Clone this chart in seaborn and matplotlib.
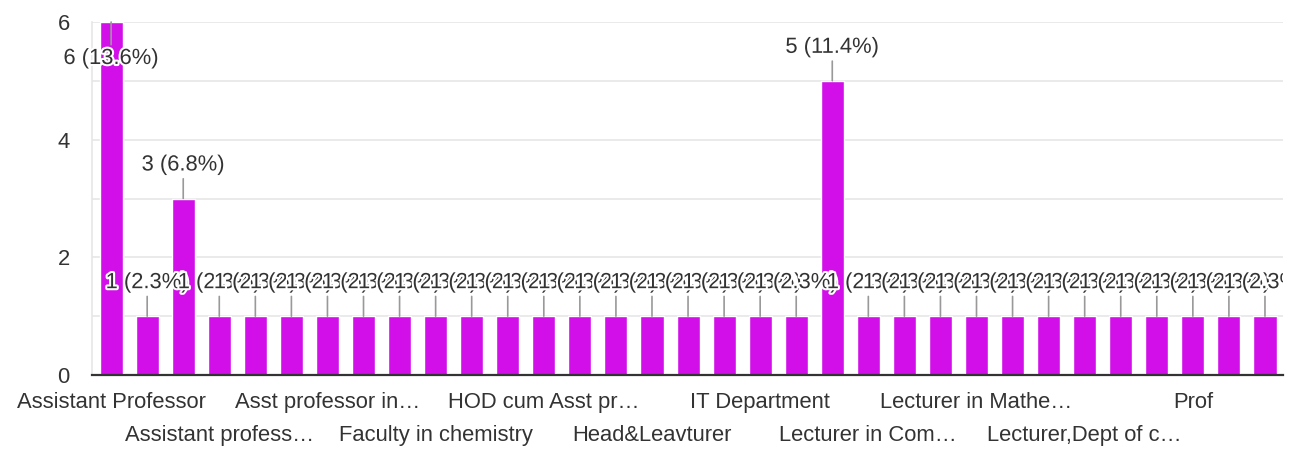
import matplotlib
matplotlib.use("Agg")
import matplotlib.pyplot as plt
import matplotlib.patheffects as pe
from matplotlib.transforms import Bbox, TransformedBbox
import seaborn as sns
import pandas as pd

# ---- data ----
categories = [
    "Assistant Professor", "Assistant Professor in English", "Assistant professor",
    "Assistant profess…", "Assistant professor in Physics", "Asst Professor",
    "Asst professor in…", "Asst. Professor", "Associate Professor",
    "Faculty in chemistry", "Faculty", "HOD",
    "HOD cum Asst pr…", "HOD, Department", "Head of Department",
    "Head&Leavturer", "Head, Dept", "IT",
    "IT Department", "Lecturer", "Lecturer ",
    "Lecturer in Com…", "Lecturer in Computer", "Lecturer in English",
    "Lecturer in Mathe…", "Lecturer in Physics", "Lecturer, Dept",
    "Lecturer,Dept of c…", "Librarian", "Principal",
    "Prof", "Professor", "Teacher",
]
counts = [6, 1, 3, 1, 1, 1, 1, 1, 1, 1, 1, 1, 1, 1, 1, 1, 1, 1, 1, 1, 5,
          1, 1, 1, 1, 1, 1, 1, 1, 1, 1, 1, 1]
y_ticks = [0, 2, 4, 6]
label_every = 3

BAR = "#d20fe9"
TXT = "#333333"
GRID = "#e6e6e6"

df = pd.DataFrame({"category": categories, "count": counts})
total = sum(counts)

sns.set_theme(style="white")
plt.rcParams["font.family"] = ["Liberation Sans", "DejaVu Sans"]
FS = 15.8

fig = plt.figure(figsize=(12.98, 4.49), dpi=100)
W, H = 1298, 449
ax = fig.add_axes([92 / W, (H - 375) / H, (1283 - 92) / W, (375 - 22) / H])

sns.barplot(data=df, x="category", y="count", color=BAR, saturation=1,
            width=0.64, ax=ax, zorder=2)

ymax = max(y_ticks)
ax.set_ylim(0, ymax)
ax.set_xlim(-0.53, len(categories) - 0.5)

# gridlines at every integer
for g in range(1, ymax + 1):
    ax.axhline(g, color=GRID, lw=1.2, zorder=0)

ax.set_yticks(y_ticks)
ax.set_yticklabels([str(t) for t in y_ticks])
ax.tick_params(axis="y", length=0, pad=16, labelsize=FS, labelcolor=TXT)

# x labels: every 3rd category, alternating in two rows
pos_all = list(range(len(categories)))
shown = pos_all[::label_every]
row1 = shown[0::2]
row2 = shown[1::2]
ax.set_xticks(row1)
ax.set_xticklabels([categories[i] for i in row1])
ax.set_xticks(row2, minor=True)
ax.set_xticklabels([categories[i] for i in row2], minor=True)
ax.tick_params(axis="x", which="major", length=0, pad=12, labelsize=FS, labelcolor=TXT)
ax.tick_params(axis="x", which="minor", length=0, pad=36, labelsize=FS, labelcolor=TXT)
ax.set_xlabel("")
ax.set_ylabel("")

for s in ["top", "right"]:
    ax.spines[s].set_visible(False)
ax.spines["left"].set_color(GRID)
ax.spines["left"].set_linewidth(1.2)
ax.spines["bottom"].set_color("#333333")
ax.spines["bottom"].set_linewidth(1.6)
ax.spines["bottom"].set_zorder(3)

# clip labels only at the right edge of the plot area
clip = TransformedBbox(Bbox.from_extents(-1, -1, 1, 2), ax.transAxes)

# data labels with leader lines
for i, v in enumerate(counts):
    txt = f"{v} ({v / total * 100:.1f}%)"
    if v >= ymax:
        off, va, rel = -26, "top", (0.5, 1.0)
    else:
        off, va, rel = 23, "bottom", (0.5, 0.0)
    ann = ax.annotate(txt, xy=(i, v), xytext=(0, off), textcoords="offset pixels",
                      ha="center", va=va, fontsize=FS, color=TXT, zorder=5,
                      annotation_clip=False,
                      path_effects=[pe.withStroke(linewidth=3, foreground="white")],
                      arrowprops=dict(arrowstyle="-", color="#999999", lw=1.2,
                                      shrinkA=0, shrinkB=0, relpos=rel))
    ann.set_clip_on(True)
    ann.set_clip_box(clip)

fig.savefig("out.png", dpi=100)
